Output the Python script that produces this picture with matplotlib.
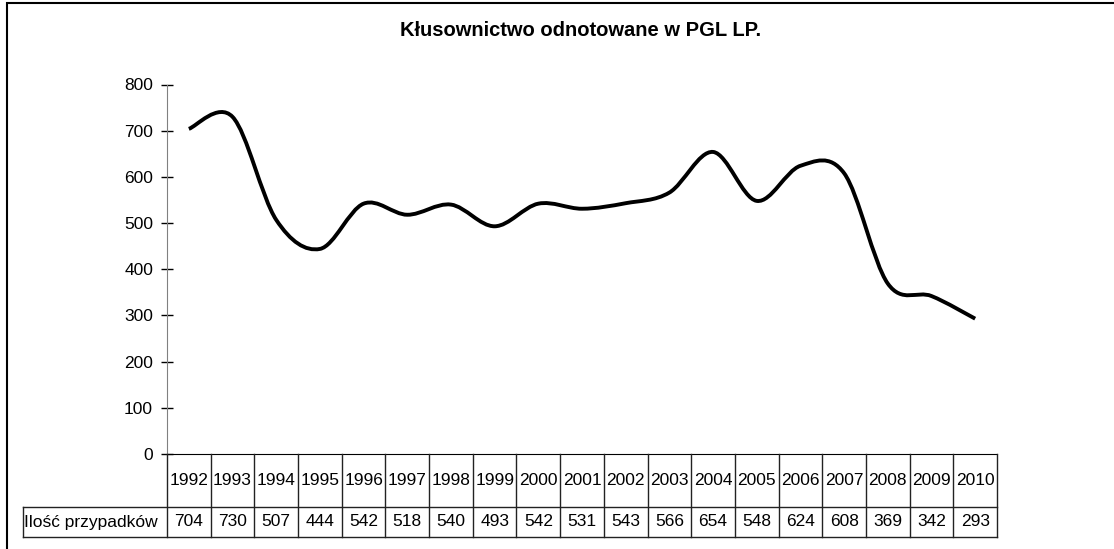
import matplotlib
matplotlib.use("Agg")
import matplotlib.pyplot as plt
import matplotlib.patches as mpatches
from matplotlib.path import Path
import numpy as np

plt.rcParams.update({
    "font.family": ["Liberation Sans", "DejaVu Sans"],
    "font.size": 12.5,
})

YEARS = ["1992", "1993", "1994", "1995", "1996", "1997", "1998", "1999", "2000",
         "2001", "2002", "2003", "2004", "2005", "2006", "2007", "2008", "2009", "2010"]
CASES = [704, 730, 507, 444, 542, 518, 540, 493, 542, 531, 543, 566, 654, 548,
         624, 608, 369, 342, 293]
ROW_LABEL = "Ilość przypadków"
TITLE = "Kłusownictwo odnotowane w PGL LP."

W, H = 1114, 549
fig = plt.figure(figsize=(W / 100, H / 100), dpi=100)

# plot area in pixels
x0, x1 = 167, 997
y_top, y_zero = 84.5, 454
ax = fig.add_axes([x0 / W, 1 - y_zero / H, (x1 - x0) / W, (y_zero - y_top) / H])
n = len(YEARS)
ax.set_xlim(-0.5, n - 0.5)
ax.set_ylim(0, 800)
ax.set_yticks(range(0, 801, 100))
ax.set_xticks([])
for s in ("top", "right"):
    ax.spines[s].set_visible(False)
ax.spines["left"].set_color("#808080")
ax.spines["bottom"].set_color("black")
ax.tick_params(axis="y", direction="inout", length=8, width=1, color="black",
               labelsize=12.5, pad=6)

# smoothed line (cubic Bezier through the data points)
xs = np.arange(n, dtype=float)
ys = np.array(CASES, dtype=float)
pts = np.column_stack([xs, ys])
verts = [pts[0]]
codes = [Path.MOVETO]
for i in range(n - 1):
    p0 = pts[i - 1] if i > 0 else pts[i]
    p1, p2 = pts[i], pts[i + 1]
    p3 = pts[i + 2] if i + 2 < n else pts[i + 1]
    c1 = p1 + (p2 - p0) / 6.0
    c2 = p2 - (p3 - p1) / 6.0
    verts += [c1, c2, p2]
    codes += [Path.CURVE4] * 3
ax.add_patch(mpatches.PathPatch(Path(verts, codes), facecolor="none",
                                edgecolor="black", lw=2.8, capstyle="butt"))

# data table below the axis
t_bot = 537
tax = fig.add_axes([x0 / W, 1 - t_bot / H, (x1 - x0) / W, (t_bot - y_zero) / H])
tax.set_xlim(-0.5, n - 0.5)
tax.set_ylim(0, t_bot - y_zero)
tax.axis("off")
row_split = 30
col_w = (x1 - x0) / n
lab_x = -0.5 + (22.7 - x0) / col_w
lc = "#222222"
for i in range(n + 1):
    tax.plot([i - 0.5, i - 0.5], [0, t_bot - y_zero], color=lc, lw=1, clip_on=False)
tax.plot([lab_x, n - 0.5], [0, 0], color=lc, lw=1, clip_on=False)
tax.plot([lab_x, n - 0.5], [row_split, row_split], color=lc, lw=1, clip_on=False)
tax.plot([lab_x, lab_x], [0, row_split], color=lc, lw=1, clip_on=False)
for i, (yr, v) in enumerate(zip(YEARS, CASES)):
    tax.text(i, (row_split + t_bot - y_zero) / 2, yr, ha="center", va="center",
             fontsize=12.5)
    tax.text(i, row_split / 2, str(v), ha="center", va="center", fontsize=12.5)
tax.text(lab_x + 0.04, row_split / 2, ROW_LABEL, ha="left", va="center",
         fontsize=12.5)

fig.text(581 / W, 1 - 31 / H, TITLE, ha="center", va="center",
         fontsize=14.5, fontweight="bold")

# chart border
fig.add_artist(mpatches.Rectangle((6.5 / W, -0.1), 1.2, 1 - 3 / H + 0.1,
                                  transform=fig.transFigure, fill=False,
                                  edgecolor="black", lw=1.5))

fig.savefig("out.png", dpi=100)
